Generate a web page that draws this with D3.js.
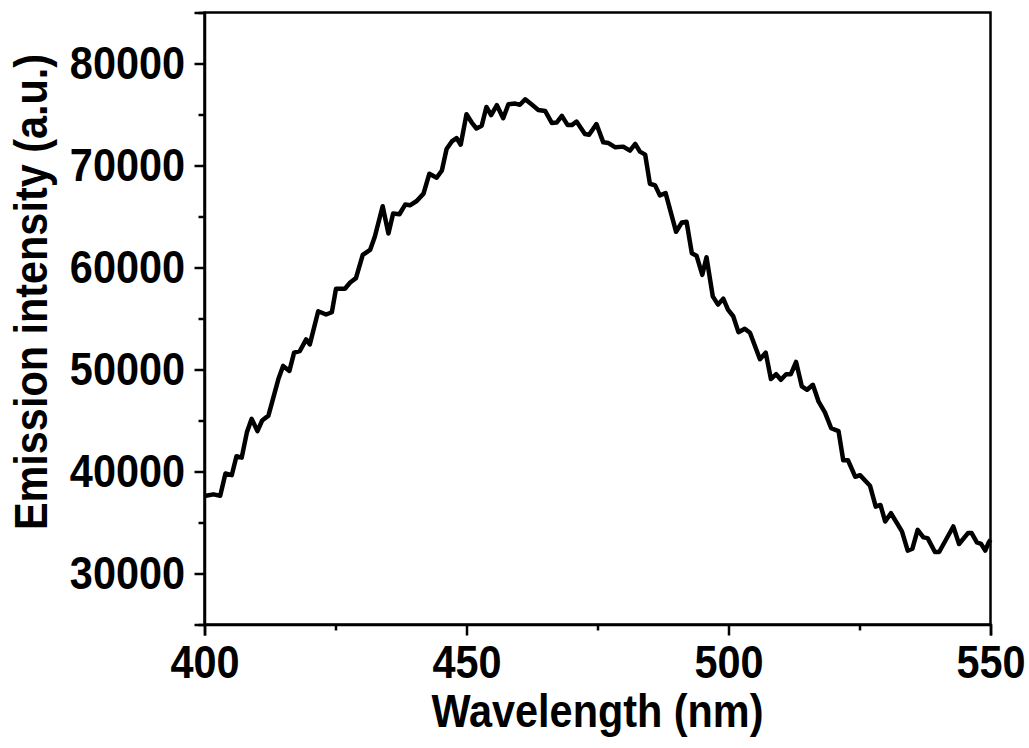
<!DOCTYPE html>
<html>
<head>
<meta charset="utf-8">
<script src="https://cdn.jsdelivr.net/npm/d3@7"></script>
<style>
  html, body { margin: 0; padding: 0; background: #fff; }
  svg text { font-family: "Liberation Sans", Arial, sans-serif; font-weight: bold; fill: #000; }
</style>
</head>
<body>
<div id="chart"></div>
<script>
// wavelength (nm)
const wavelength = [
  400, 401.7, 403, 404, 405.2, 406.1, 407.1, 408.1, 409, 410.1, 411, 412.2, 414.1, 415, 416.2, 417.1,
  418.2, 419.4, 420.1, 421.7, 423.2, 424.3, 425.1, 426.8, 427.8, 428.9, 430.2, 431.6, 432.5, 434, 435.1,
  436, 437.2, 438.3, 439.2, 440.5, 441.8, 442.9, 444.3, 445.3, 446.2, 447.2, 448.1, 448.9, 450, 451,
  451.9, 452.9, 453.8, 454.7, 455.8, 457, 458, 459.3, 460.2, 461.2, 462.4, 463.7, 465, 466.3, 467.2,
  468.2, 469.3, 470.1, 471, 472.6, 473.4, 474.8, 476.1, 477.1, 478.4, 479.9, 481.2, 482.2, 483.1, 484.1,
  485, 486, 486.9, 488, 490, 491.1, 492, 493, 493.9, 495, 495.8, 497, 498, 499, 499.9, 500.9, 501.9,
  503.1, 504.1, 506, 507.1, 508.1, 509.1, 510, 511, 511.9, 512.9, 514, 515, 516.1, 517.2, 518.4, 519.6,
  521, 521.9, 522.8, 524.2, 525.1, 527, 528.1, 529, 529.9, 531, 533.1, 534.2, 535.1, 536.1, 537.2, 538,
  539.4, 540.2, 542.9, 544, 545.7, 546.4, 547.4, 548.2, 549, 549.6, 550
];

// emission intensity (a.u.)
const intensity = [
  37590, 37760, 37630, 39800, 39640, 41490, 41360, 43860, 45160, 43960, 45000, 45480, 49060, 50350, 49860, 51660,
  51810, 52950, 52460, 55710, 55390, 55610, 57920, 57920, 58530, 58960, 61230, 61720, 63010, 66000, 63340,
  65290, 65220, 66170, 66100, 66520, 67240, 69190, 68800, 69510, 71620, 72360, 72690, 72040, 75030, 74210,
  73630, 73890, 75740, 74940, 75910, 74640, 76000, 76070, 75960, 76490, 76000, 75450, 75350, 74160, 74210,
  74870, 73960, 73960, 74310, 73080, 73010, 74060, 72270, 72200, 71780, 71850, 71460, 72110, 71360, 71070,
  68210, 68050, 67070, 67300, 63500, 64420, 64480, 61400, 61160, 59280, 61010, 57170, 56360, 56950, 55880, 55220, 53660,
  54000, 53600, 51000, 51650, 49060, 49540, 48990, 49540, 49540, 50740, 48340, 48010, 48500, 46840, 45790, 44240,
  43950, 41100, 41100, 39480, 39640, 38610, 36560, 36720, 35100, 35910, 34130, 32240, 32430, 34280, 33540, 33470,
  32110, 32110, 34610, 32890, 33960, 33960, 33050, 32910, 32240, 32990, 33300
];

const xMajorTicks = [400, 450, 500, 550];
const xMinorTicks = [425, 475, 525];
const yMajorTicks = [30000, 40000, 50000, 60000, 70000, 80000];
const yMinorTicks = [25000, 35000, 45000, 55000, 65000, 75000, 85000];

const data = wavelength.map((w, i) => ({ w, v: intensity[i] }));

const width = 1029, height = 748;
const margin = { top: 12.5, right: 38.5, bottom: 123.5, left: 204.5 };
const innerWidth = width - margin.left - margin.right;
const innerHeight = height - margin.top - margin.bottom;

// the original glyphs are a bit narrower than Liberation Sans
const squeeze = 0.9;
function condense(sel) {
  sel.each(function () {
    const len = this.getComputedTextLength();
    if (len > 0) {
      d3.select(this)
        .attr("textLength", len * squeeze)
        .attr("lengthAdjust", "spacingAndGlyphs");
    }
  });
}

const svg = d3.select("#chart").append("svg")
  .attr("width", width)
  .attr("height", height);

const plot = svg.append("g")
  .attr("transform", `translate(${margin.left},${margin.top})`);

const x = d3.scaleLinear().domain([400, 550]).range([0, innerWidth]);
const y = d3.scaleLinear().domain([25000, 85000]).range([innerHeight, 0]);

// curve
plot.append("path")
  .datum(data)
  .attr("fill", "none")
  .attr("stroke", "#000")
  .attr("stroke-width", 4.5)
  .attr("stroke-linejoin", "round")
  .attr("d", d3.line().x(d => x(d.w)).y(d => y(d.v)));

// frame (top + right)
plot.append("rect")
  .attr("width", innerWidth)
  .attr("height", innerHeight)
  .attr("fill", "none")
  .attr("stroke", "#000")
  .attr("stroke-width", 2.5);

// bottom axis
plot.append("g")
  .attr("transform", `translate(0,${innerHeight})`)
  .call(d3.axisBottom(x).tickValues(xMajorTicks).tickSize(11).tickPadding(9.5).tickFormat(d3.format("d")));
plot.append("g")
  .attr("transform", `translate(0,${innerHeight})`)
  .call(d3.axisBottom(x).tickValues(xMinorTicks).tickSize(6).tickFormat(""))
  .call(g => g.select(".domain").remove());

// left axis
plot.append("g")
  .call(d3.axisLeft(y).tickValues(yMajorTicks).tickSize(10).tickPadding(9.5).tickFormat(d3.format("d")));
plot.append("g")
  .call(d3.axisLeft(y).tickValues(yMinorTicks).tickSize(6).tickFormat(""))
  .call(g => g.select(".domain").remove());

svg.selectAll(".tick line").attr("stroke", "#000").attr("stroke-width", 2.5);
svg.selectAll(".domain").attr("stroke", "#000").attr("stroke-width", 2.5);
svg.selectAll(".tick text")
  .style("font-size", "46px")
  .style("font-family", "'Liberation Sans', Arial, sans-serif")
  .style("font-weight", "bold")
  .call(condense);

// axis titles
svg.append("text")
  .attr("x", margin.left + innerWidth / 2)
  .attr("y", 727)
  .attr("text-anchor", "middle")
  .style("font-size", "46px")
  .text("Wavelength (nm)")
  .call(condense);

svg.append("text")
  .attr("transform", "translate(47,292) rotate(-90)")
  .attr("text-anchor", "middle")
  .style("font-size", "46px")
  .text("Emission intensity (a.u.)")
  .call(condense);
</script>
</body>
</html>
